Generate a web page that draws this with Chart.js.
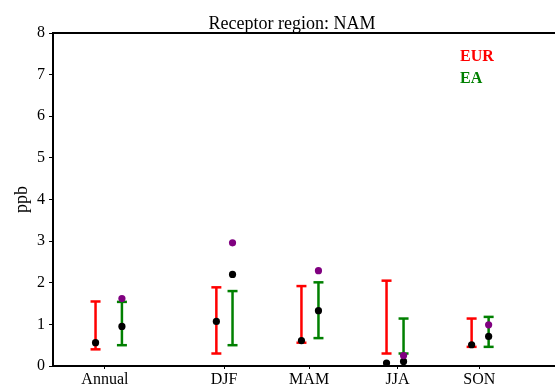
<!DOCTYPE html>
<html>
<head>
<meta charset="utf-8">
<script src="https://cdn.jsdelivr.net/npm/chart.js@4/dist/chart.umd.min.js"></script>
<style>
  body { margin: 0; background: #fff; }
</style>
</head>
<body>
<canvas id="myChart" width="555" height="385"></canvas>
<script>
// Data
const categories = ['Annual', 'DJF', 'MAM', 'JJA', 'SON'];
const tickX = [0.61, 2.01, 3.01, 4.05, 5.01];
const eurX = [0.5, 1.92, 2.92, 3.92, 4.92];
const eaX = [0.81, 2.11, 3.12, 4.12, 5.12];

const eurLow = [0.40, 0.30, 0.56, 0.30, 0.46];
const eurHigh = [1.55, 1.89, 1.92, 2.05, 1.14];
const eurMean = [0.56, 1.07, 0.61, 0.07, 0.51];

const eaLow = [0.50, 0.50, 0.67, 0.30, 0.46];
const eaHigh = [1.54, 1.80, 2.01, 1.14, 1.18];
const eaMean = [0.95, 2.20, 1.33, 0.11, 0.71];
const eaExtra = [1.62, 2.96, 2.29, 0.25, 0.99];

const yTicks = [0, 1, 2, 3, 4, 5, 6, 7, 8];

const RED = 'rgb(255, 0, 0)';
const GREEN = 'rgb(0, 128, 0)';
const PURPLE = 'rgb(128, 0, 128)';
const SERIF = "'Liberation Serif', 'DejaVu Serif', serif";

// vertical whisker lines, broken with null between bars
function whiskers(xs, lo, hi) {
  const pts = [];
  xs.forEach(function(x, i) {
    pts.push({x: x, y: lo[i]});
    pts.push({x: x, y: hi[i]});
    pts.push({x: x, y: null});
  });
  return pts;
}

// caps at both ends
function caps(xs, lo, hi) {
  const pts = [];
  xs.forEach(function(x, i) {
    pts.push({x: x, y: lo[i]});
    pts.push({x: x, y: hi[i]});
  });
  return pts;
}

function points(xs, ys) {
  return xs.map(function(x, i) { return {x: x, y: ys[i]}; });
}

// title and the coloured EUR / EA labels
const textPlugin = {
  id: 'textPlugin',
  afterDraw: function(chart) {
    const ctx = chart.ctx;
    ctx.save();
    ctx.textBaseline = 'alphabetic';
    ctx.textAlign = 'center';
    ctx.fillStyle = '#000';
    ctx.font = '18px ' + SERIF;
    ctx.fillText('Receptor region: NAM', 292, 29);
    ctx.textAlign = 'left';
    ctx.font = 'bold 16px ' + SERIF;
    ctx.fillStyle = RED;
    ctx.fillText('EUR', 460, 61);
    ctx.fillStyle = GREEN;
    ctx.fillText('EA', 460, 83);
    ctx.restore();
  }
};

const config = {
  type: 'scatter',
  data: {
    datasets: [
      {
        label: 'EA extra',
        data: points(eaX, eaExtra),
        backgroundColor: PURPLE,
        borderColor: PURPLE,
        pointRadius: 3.6,
        borderWidth: 0,
        order: 0
      },
      {
        label: 'EUR mean',
        data: points(eurX, eurMean),
        backgroundColor: '#000',
        borderColor: '#000',
        pointRadius: 3.6,
        borderWidth: 0,
        order: 1
      },
      {
        label: 'EA mean',
        data: points(eaX, eaMean),
        backgroundColor: '#000',
        borderColor: '#000',
        pointRadius: 3.6,
        borderWidth: 0,
        order: 1
      },
      {
        type: 'line',
        label: 'EUR range',
        data: whiskers(eurX, eurLow, eurHigh),
        borderColor: RED,
        borderWidth: 2.5,
        pointRadius: 0,
        spanGaps: false,
        order: 3
      },
      {
        label: 'EUR caps',
        data: caps(eurX, eurLow, eurHigh),
        pointStyle: 'line',
        pointRadius: 5,
        borderColor: RED,
        borderWidth: 2.5,
        order: 3
      },
      {
        type: 'line',
        label: 'EA range',
        data: whiskers(eaX, eaLow, eaHigh),
        borderColor: GREEN,
        borderWidth: 2.5,
        pointRadius: 0,
        spanGaps: false,
        order: 2
      },
      {
        label: 'EA caps',
        data: caps(eaX, eaLow, eaHigh),
        pointStyle: 'line',
        pointRadius: 5,
        borderColor: GREEN,
        borderWidth: 2.5,
        order: 2
      }
    ]
  },
  options: {
    responsive: false,
    animation: false,
    clip: false,
    layout: {
      autoPadding: false, // the frame runs off the right edge in the original
      padding: {top: 33, right: 0, bottom: 0, left: 0}
    },
    plugins: {
      legend: {display: false},
      title: {display: false},
      tooltip: {enabled: false}
    },
    scales: {
      x: {
        type: 'linear',
        position: 'bottom',
        min: 0,
        max: 5.9,
        afterFit: function(scale) { scale.height = 19; },
        afterBuildTicks: function(scale) {
          scale.ticks = tickX.map(function(v) { return {value: v}; });
        },
        ticks: {
          autoSkip: false,
          maxRotation: 0,
          padding: 1,
          color: '#000',
          font: {family: SERIF, size: 16},
          callback: function(value) {
            const i = tickX.indexOf(value);
            return i >= 0 ? categories[i] : '';
          }
        },
        grid: {
          drawOnChartArea: false,
          tickLength: 3,
          tickColor: '#000'
        },
        border: {color: '#000', width: 2}
      },
      x2: {
        type: 'linear',
        position: 'top',
        min: 0,
        max: 5.9,
        afterFit: function(scale) { scale.height = 0; },
        ticks: {display: false},
        grid: {drawOnChartArea: false, drawTicks: false},
        border: {color: '#000', width: 2}
      },
      y: {
        type: 'linear',
        min: 0,
        max: 8,
        afterFit: function(scale) { scale.width = 53; },
        afterBuildTicks: function(scale) {
          scale.ticks = yTicks.map(function(v) { return {value: v}; });
        },
        ticks: {
          padding: 4,
          color: '#000',
          font: {family: SERIF, size: 16}
        },
        grid: {
          drawOnChartArea: false,
          tickLength: 4,
          tickColor: '#000'
        },
        border: {color: '#000', width: 2},
        title: {
          display: true,
          text: 'ppb',
          color: '#000',
          font: {family: SERIF, size: 18},
          padding: {top: 11, bottom: 0}
        }
      }
    }
  },
  plugins: [textPlugin]
};

const myChart = new Chart(document.getElementById('myChart'), config);
</script>
</body>
</html>
